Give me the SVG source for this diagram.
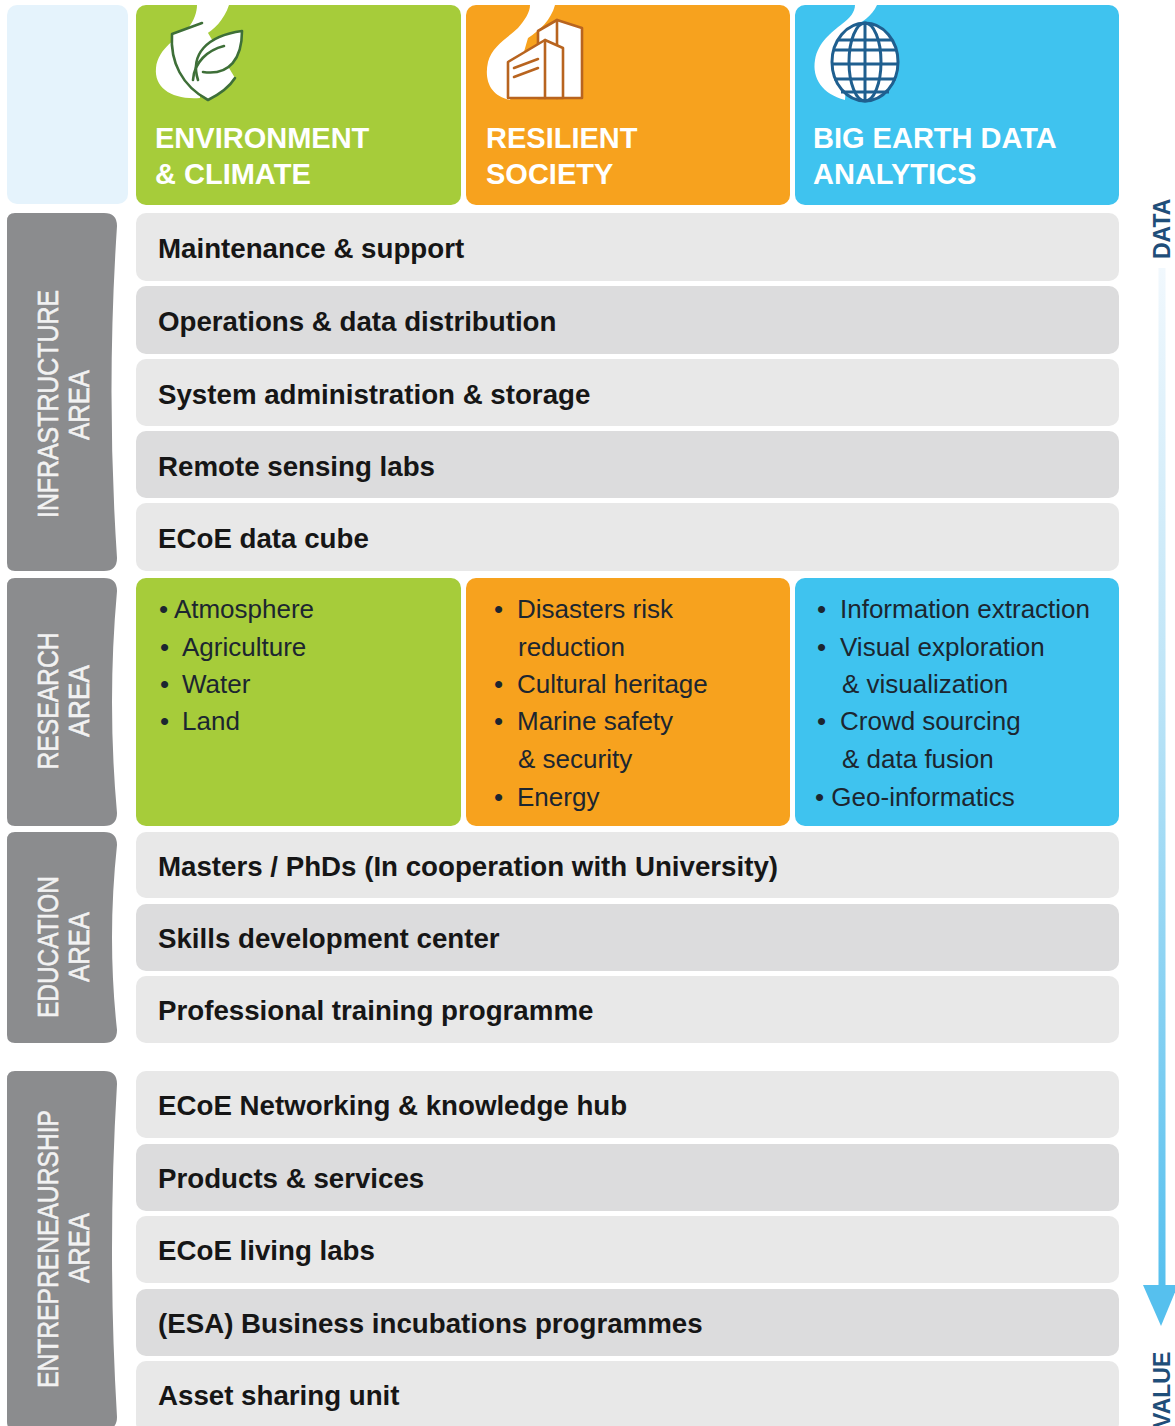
<svg xmlns="http://www.w3.org/2000/svg" width="1175" height="1426" viewBox="0 0 1175 1426">
<style>
.r1{fill:#e8e8e8}
.r2{fill:#dcdcdd}
.rt{font-family:"Liberation Sans",Arial,sans-serif;font-weight:bold;font-size:27.7px;fill:#161616}
.ht{font-family:"Liberation Sans",Arial,sans-serif;font-weight:bold;font-size:29px;fill:#ffffff}
.tab{fill:#8b8c8e}
.tt{font-family:"Liberation Sans",Arial,sans-serif;font-size:29px;fill:#f2f2f2;stroke:#f2f2f2;stroke-width:0.6}
.rs{font-family:"Liberation Sans",Arial,sans-serif;font-size:26px;fill:#1c2630}
.side{font-family:"Liberation Sans",Arial,sans-serif;font-weight:bold;font-size:23px;fill:#1f4e79}
.blob{fill:#ffffff}
</style>
<defs>
<linearGradient id="arrowGrad" x1="0" y1="0" x2="0" y2="1">
<stop offset="0" stop-color="#f1f8fd"/>
<stop offset="0.4" stop-color="#bfe5f7"/>
<stop offset="1" stop-color="#56c0ee"/>
</linearGradient>
</defs>
<rect width="1175" height="1426" fill="#ffffff"/>

<g id="header">
<rect x="7" y="5" width="121" height="199" rx="10" fill="#e5f3fc"/>
<g id="env">
<rect x="136" y="5" width="325" height="200" rx="10" fill="#a6cc3a"/>
<path class="blob" d="M197,5 H229 C224,20 214,30 203,36 L200,98 C172,100 154,88 156,68 C158,48 178,38 188,28 C194,21 197,12 197,5 Z"/>
<g fill="#ffffff" stroke="#3e6f38" stroke-width="2.6" stroke-linejoin="round" stroke-linecap="round">
<path d="M202,23 L172,34 C170,62 182,86 208,100 C222,93 230,86 235,78"/>
<path d="M198,80 C190,55 206,36 242,31 C242,58 230,76 203,72"/>
<path d="M193,80 C194,62 208,50 224,46" fill="none"/>
</g>
<text class="ht" x="155" y="148">ENVIRONMENT</text>
<text class="ht" x="155" y="184">&amp; CLIMATE</text>
</g>
<g id="res">
<rect x="466" y="5" width="324" height="200" rx="10" fill="#f7a21e"/>
<path class="blob" d="M530,5 H555 C551,20 540,30 528,38 L510,100 C490,96 484,80 488,62 C492,46 508,38 518,28 C525,20 530,12 530,5 Z"/>
<g fill="#ffffff" stroke="#b8641f" stroke-width="2.6" stroke-linejoin="round" stroke-linecap="round">
<path d="M538,98 V31 L557,20 L582,28 V98 Z"/>
<path d="M557,20 V98" fill="none"/>
<path d="M508,98 V62 L545,40 L563,48 V98 Z"/>
<path d="M545,40 V98" fill="none"/>
<path d="M514,68 L538,59 M514,77 L538,68" fill="none"/>
</g>
<text class="ht" x="486" y="148">RESILIENT</text>
<text class="ht" x="486" y="184">SOCIETY</text>
</g>
<g id="bigdata">
<rect x="795" y="5" width="324" height="200" rx="10" fill="#3fc3ef"/>
<path class="blob" d="M855,5 H877 C872,16 862,22 850,30 L845,100 C822,94 812,78 815,60 C818,42 832,32 842,24 C850,18 855,12 855,5 Z"/>
<g fill="none" stroke="#1f5f8f" stroke-width="3">
<ellipse cx="865" cy="62" rx="33" ry="39" fill="#ffffff"/>
<ellipse cx="865" cy="62" rx="16" ry="39"/>
<path d="M865,23 V101"/>
<path d="M838,40 H892 M833,50 H897 M832,64 H898 M834,79 H896 M841,92 H889"/>
</g>
<text class="ht" x="813" y="148">BIG EARTH DATA</text>
<text class="ht" x="813" y="184">ANALYTICS</text>
</g>
</g>

<g id="tab-infrastructure">
<path class="tab" d="M7,221 Q7,213 15,213 H104 Q117,213 117,226 Q106,392 117,558 Q117,571 104,571 H15 Q7,571 7,563 Z"/>
<text class="tt" transform="translate(58,404) rotate(-90)" text-anchor="middle" textLength="228" lengthAdjust="spacingAndGlyphs">INFRASTRUCTURE</text>
<text class="tt" transform="translate(89,405) rotate(-90)" text-anchor="middle" textLength="70" lengthAdjust="spacingAndGlyphs">AREA</text>
</g>
<g id="tab-research">
<path class="tab" d="M7,586 Q7,578 15,578 H104 Q117,578 117,591 Q107,702 117,813 Q117,826 104,826 H15 Q7,826 7,818 Z"/>
<text class="tt" transform="translate(58,701) rotate(-90)" text-anchor="middle" textLength="137" lengthAdjust="spacingAndGlyphs">RESEARCH</text>
<text class="tt" transform="translate(89,701) rotate(-90)" text-anchor="middle" textLength="72" lengthAdjust="spacingAndGlyphs">AREA</text>
</g>
<g id="tab-education">
<path class="tab" d="M7,840 Q7,832 15,832 H104 Q117,832 117,845 Q107,938 117,1030 Q117,1043 104,1043 H15 Q7,1043 7,1035 Z"/>
<text class="tt" transform="translate(58,947) rotate(-90)" text-anchor="middle" textLength="142" lengthAdjust="spacingAndGlyphs">EDUCATION</text>
<text class="tt" transform="translate(89,947) rotate(-90)" text-anchor="middle" textLength="70" lengthAdjust="spacingAndGlyphs">AREA</text>
</g>
<g id="tab-entrepreneurship">
<path class="tab" d="M7,1079 Q7,1071 15,1071 H104 Q117,1071 117,1084 Q107,1250 117,1417 Q117,1430 104,1430 H15 Q7,1430 7,1422 Z"/>
<text class="tt" transform="translate(58,1249) rotate(-90)" text-anchor="middle" textLength="278" lengthAdjust="spacingAndGlyphs">ENTREPRENEAURSHIP</text>
<text class="tt" transform="translate(89,1248) rotate(-90)" text-anchor="middle" textLength="70" lengthAdjust="spacingAndGlyphs">AREA</text>
</g>

<g id="infrastructure-rows">
<g id="row-maintenance"><rect class="r1" x="136" y="213" width="983" height="68" rx="10"/><text class="rt" x="158" y="258">Maintenance &amp; support</text></g>
<g id="row-operations"><rect class="r2" x="136" y="286" width="983" height="68" rx="10"/><text class="rt" x="158" y="331">Operations &amp; data distribution</text></g>
<g id="row-sysadmin"><rect class="r1" x="136" y="359" width="983" height="67" rx="10"/><text class="rt" x="158" y="404">System administration &amp; storage</text></g>
<g id="row-remote"><rect class="r2" x="136" y="431" width="983" height="67" rx="10"/><text class="rt" x="158" y="476">Remote sensing labs</text></g>
<g id="row-cube"><rect class="r1" x="136" y="503" width="983" height="68" rx="10"/><text class="rt" x="158" y="548">ECoE data cube</text></g>
</g>

<g id="research-env">
<rect x="136" y="578" width="325" height="248" rx="10" fill="#a6cc3a"/>
<text class="rs" x="159" y="618">• Atmosphere</text>
<text class="rs" x="160" y="656">•</text><text class="rs" x="182" y="656">Agriculture</text>
<text class="rs" x="160" y="693">•</text><text class="rs" x="182" y="693">Water</text>
<text class="rs" x="160" y="730">•</text><text class="rs" x="182" y="730">Land</text>
</g>
<g id="research-res">
<rect x="466" y="578" width="324" height="248" rx="10" fill="#f7a21e"/>
<text class="rs" x="494" y="618">•</text><text class="rs" x="517" y="618">Disasters risk</text>
<text class="rs" x="518" y="656">reduction</text>
<text class="rs" x="494" y="693">•</text><text class="rs" x="517" y="693">Cultural heritage</text>
<text class="rs" x="494" y="730">•</text><text class="rs" x="517" y="730">Marine safety</text>
<text class="rs" x="518" y="768">&amp; security</text>
<text class="rs" x="494" y="806">•</text><text class="rs" x="517" y="806">Energy</text>
</g>
<g id="research-big">
<rect x="795" y="578" width="324" height="248" rx="10" fill="#3fc3ef"/>
<text class="rs" x="817" y="618">•</text><text class="rs" x="840" y="618">Information extraction</text>
<text class="rs" x="817" y="656">•</text><text class="rs" x="840" y="656">Visual exploration</text>
<text class="rs" x="842" y="693">&amp; visualization</text>
<text class="rs" x="817" y="730">•</text><text class="rs" x="840" y="730">Crowd sourcing</text>
<text class="rs" x="842" y="768">&amp; data fusion</text>
<text class="rs" x="815" y="806">• Geo-informatics</text>
</g>

<g id="education-rows">
<g id="row-masters"><rect class="r1" x="136" y="832" width="983" height="66" rx="10"/><text class="rt" x="158" y="876">Masters / PhDs (In cooperation with University)</text></g>
<g id="row-skills"><rect class="r2" x="136" y="904" width="983" height="67" rx="10"/><text class="rt" x="158" y="948">Skills development center</text></g>
<g id="row-training"><rect class="r1" x="136" y="976" width="983" height="67" rx="10"/><text class="rt" x="158" y="1020">Professional training programme</text></g>
</g>

<g id="entrepreneurship-rows">
<g id="row-hub"><rect class="r1" x="136" y="1071" width="983" height="67" rx="10"/><text class="rt" x="158" y="1115">ECoE Networking &amp; knowledge hub</text></g>
<g id="row-products"><rect class="r2" x="136" y="1144" width="983" height="67" rx="10"/><text class="rt" x="158" y="1188">Products &amp; services</text></g>
<g id="row-livinglabs"><rect class="r1" x="136" y="1216" width="983" height="67" rx="10"/><text class="rt" x="158" y="1260">ECoE living labs</text></g>
<g id="row-incubation"><rect class="r2" x="136" y="1289" width="983" height="67" rx="10"/><text class="rt" x="158" y="1333">(ESA) Business incubations programmes</text></g>
<g id="row-asset"><rect class="r1" x="136" y="1361" width="983" height="72" rx="10"/><text class="rt" x="158" y="1405">Asset sharing unit</text></g>
</g>

<g id="connectors">
<rect x="1158.5" y="268" width="7" height="1020" fill="url(#arrowGrad)"/>
<polygon points="1143,1285 1178,1285 1161,1326" fill="#56c0ee"/>
</g>
<text class="side" transform="translate(1170,259) rotate(-90)">DATA</text>
<text class="side" transform="translate(1170,1428) rotate(-90)">VALUE</text>
</svg>
